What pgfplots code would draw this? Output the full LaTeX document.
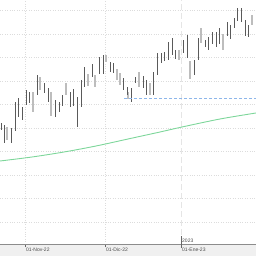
\documentclass[border=0pt]{standalone}
\usepackage{pgfplots}
\usepackage{pgfplotstable}
\pgfplotsset{compat=1.18}
\usepackage{fontspec}
\setmainfont{Liberation Sans}
\definecolor{upbar}{HTML}{5A5A5A}
\definecolor{dnbar}{HTML}{BDBDBD}
\definecolor{magreen}{HTML}{7DD69A}
\definecolor{lvlblue}{HTML}{8DB6EA}
\definecolor{gridc}{HTML}{DCDCDC}
\pgfplotstableread{
x lo hi
1 114 121
4 101 119
11 101 116
15 113 142
18 127 146
22 124 137
26 139 154
29 141 152
37 149 169
44 151 161
48 142 156
55 127 144
59 132 142
62 138 149
70 137 152
73 138 155
77 117 147
81 137 164
84 157 177
92 167 180
99 170 187
103 170 189
110 172 182
113 171 181
123 154 166
127 149 157
131 142 156
135 161 167
143 156 168
146 149 164
153 149 172
157 169 191
161 181 191
164 183 192
168 184 202
172 189 206
175 185 194
183 191 204
187 186 209
194 169 184
198 184 206
205 197 204
208 194 207
212 200 212
216 197 212
219 200 216
227 208 222
230 205 219
234 216 226
237 223 236
241 222 236
245 208 224
248 207 219
256 208 216
}\upbars
\pgfplotstableread{
x lo hi
7 104 117
33 132 152
40 154 167
51 128 152
66 149 161
88 158 170
95 157 169
106 182 189
117 164 175
120 159 171
128 145 152
139 157 172
150 149 161
179 184 194
190 165 183
201 201 216
223 194 210
252 219 229
}\dnbars
\pgfplotstablecreatecol[expr={(\thisrow{lo}+\thisrow{hi})/2}]{mid}{\upbars}
\pgfplotstablecreatecol[expr={(\thisrow{hi}-\thisrow{lo})/2}]{half}{\upbars}
\pgfplotstablecreatecol[expr={(\thisrow{lo}+\thisrow{hi})/2}]{mid}{\dnbars}
\pgfplotstablecreatecol[expr={(\thisrow{hi}-\thisrow{lo})/2}]{half}{\dnbars}
\begin{document}
\begin{tikzpicture}[font=\fontsize{5}{6}\selectfont]
\fill[black!6] (0,-12pt) rectangle (256pt,0pt);
\begin{axis}[
  at={(0,0)}, anchor=south west,
  scale only axis, width=256pt, height=244pt,
  xmin=0, xmax=256, ymin=0, ymax=244,
  axis line style={draw=none},
  xtick={25,105}, xticklabels={01-Nov-22,01-Dic-22},
  extra x ticks={181}, extra x tick labels={01-Ene-23},
  extra x tick style={grid=none},
  xticklabel style={anchor=north west, inner sep=0.5pt, xshift=0.5pt, text=black!70},
  tick pos=bottom, tick align=outside,
  major tick length=3pt, tick style={draw=black!60, line width=0.5pt},
  ytick={22,45.5,69,92.5,116,139.5,163,186.5,210,233.5}, yticklabels={},
  ytick style={draw=none},
  grid=major, major grid style={draw=gridc, dotted, line width=0.7pt},
  clip=true,
]
\draw[black!10, line width=1pt, dash pattern=on 6pt off 3pt] (axis cs:181,0) -- (axis cs:181,244);
\addplot[draw=none, mark=none, forget plot,
  error bars/.cd, y dir=both, y explicit, error mark=none,
  error bar style={draw=dnbar, line width=1.5pt}]
  table[x=x, y=mid, y error=half] {\dnbars};
\addplot[draw=none, mark=none, forget plot,
  error bars/.cd, y dir=both, y explicit, error mark=none,
  error bar style={draw=upbar, line width=0.8pt}]
  table[x=x, y=mid, y error=half] {\upbars};
\addplot[draw=magreen, line width=0.9pt, smooth, mark=none] coordinates {
(0,83) (32,87) (64,92) (96,98) (128,105) (160,112) (182,117) (220,125) (256,131)};
\addplot[draw=lvlblue, line width=1pt, dash pattern=on 3pt off 2pt, mark=none] coordinates {(124,145) (256,145)};
\end{axis}
\draw[black!45, line width=0.5pt] (0,0) -- (256pt,0);
\draw[black!60, line width=0.5pt] (181pt,-4pt) -- (181pt,8pt);
\node[anchor=south west, inner sep=0.5pt, text=black!70] at (181.5pt,0.5pt) {2023};
\pgfresetboundingbox
\path[use as bounding box] (0,-12pt) rectangle (256pt,244pt);
\end{tikzpicture}
\end{document}
